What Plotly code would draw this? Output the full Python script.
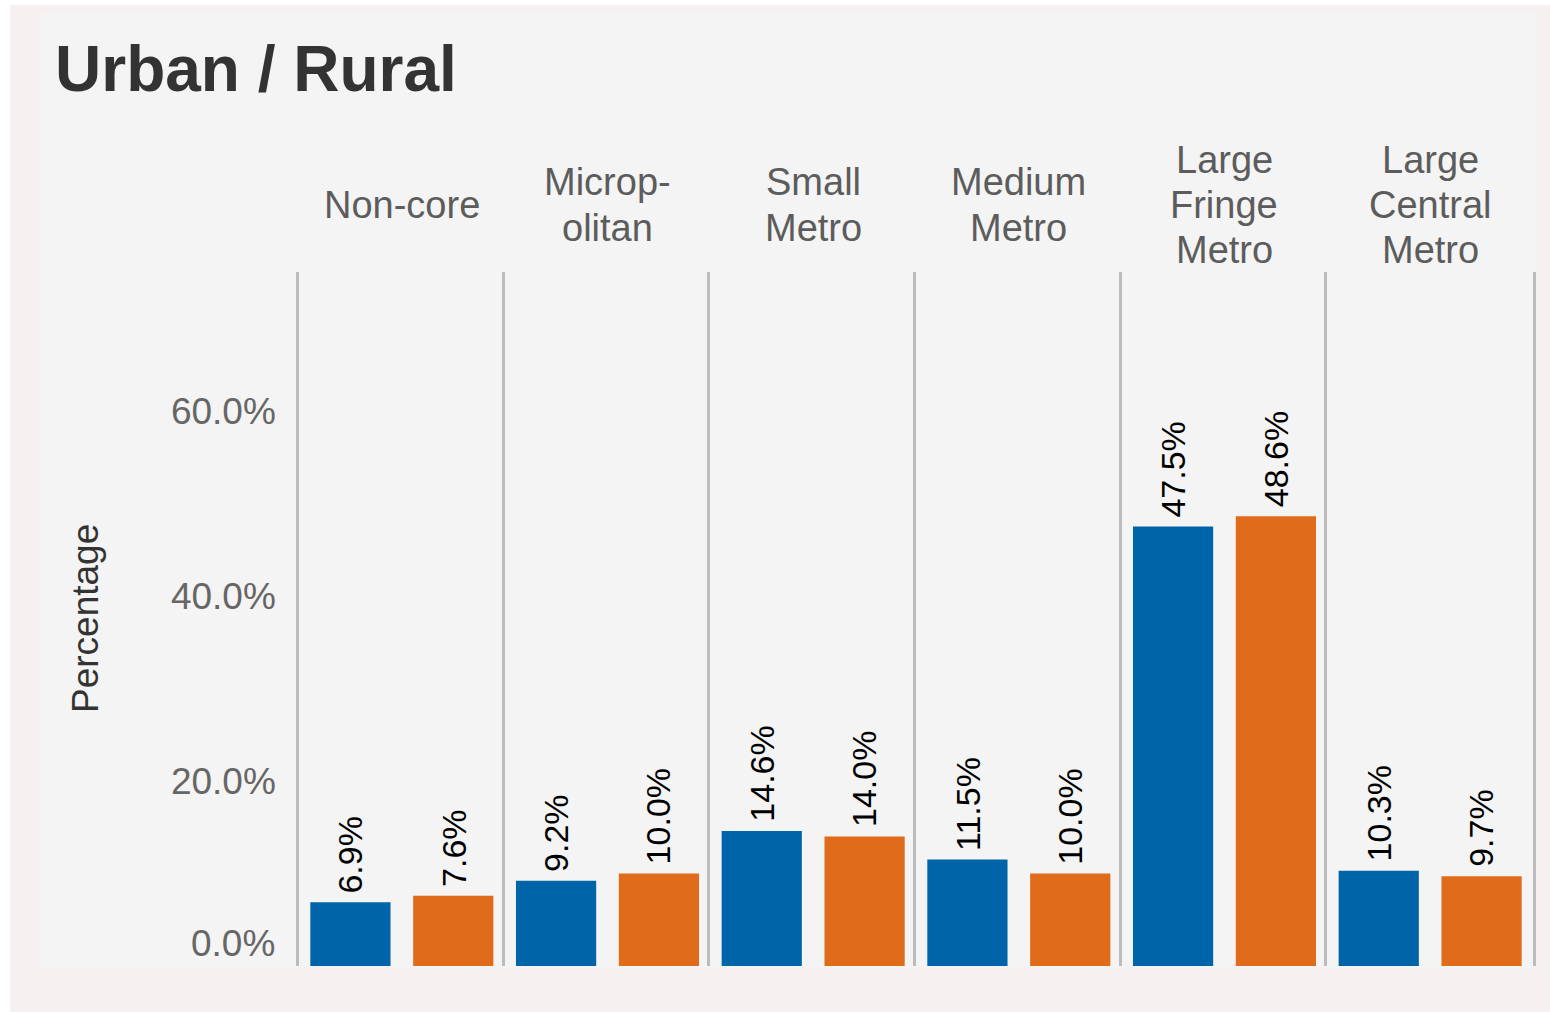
import plotly.graph_objects as go
from plotly.subplots import make_subplots

# ---- data ----
categories = ["Non-core", "Microp-\nolitan", "Small\nMetro", "Medium\nMetro",
              "Large\nFringe\nMetro", "Large\nCentral\nMetro"]
first_values = [6.9, 9.2, 14.6, 11.5, 47.5, 10.3]
second_values = [7.6, 10.0, 14.0, 10.0, 48.6, 9.7]
tick_values = [0, 20, 40, 60]
tick_labels = ["0.0%", "20.0%", "40.0%", "60.0%"]
title_text = "Urban / Rural"
y_title = "Percentage"

# ---- styling ----
FONT = "Liberation Sans, Arial, Helvetica, sans-serif"
BLUE = "#0065a8"
ORANGE = "#e06b1a"
OUTER_BG = "#f6f0f0"
PANEL_BG = "#f4f4f4"
LINE = "#bcbcbc"

W, H = 1550, 1012
ML, MR, MT, MB = 299, 17, 272, 46
PW, PH = W - ML - MR, H - MT - MB


def px_x(px):
    return (px - ML) / PW


def px_y(py):
    return (H - MB - py) / PH


n = len(categories)
fig = make_subplots(rows=1, cols=n, shared_yaxes=True, horizontal_spacing=0)

for i in range(n):
    col = i + 1
    fig.add_trace(go.Bar(x=[0], y=[first_values[i]], width=0.78,
                         marker=dict(color=BLUE, line_width=0),
                         showlegend=False, hoverinfo="y"), row=1, col=col)
    fig.add_trace(go.Bar(x=[1], y=[second_values[i]], width=0.78,
                         marker=dict(color=ORANGE, line_width=0),
                         showlegend=False, hoverinfo="y"), row=1, col=col)
    xr = "x" if col == 1 else f"x{col}"
    yr = "y" if col == 1 else f"y{col}"
    # value labels above the bars
    for xv, val in ((0, first_values[i]), (1, second_values[i])):
        fig.add_annotation(x=xv, y=val, xref=xr, yref=yr, text=f"{val:.1f}%",
                           textangle=-90, showarrow=False, xanchor="center",
                           yanchor="bottom", yshift=7,
                           font=dict(family=FONT, size=34, color="#000000"))
    # column header, one annotation per line
    lines = categories[i].split("\n")
    for k, ln in enumerate(lines):
        offset = (k - (len(lines) - 1) / 2) * 45
        fig.add_annotation(x=0.5, xref=f"{xr} domain", y=px_y(205 + offset), yref="paper",
                           text=ln, showarrow=False, xanchor="center", yanchor="middle",
                           font=dict(family=FONT, size=38, color="#5c5c5c"))
    fig.update_xaxes(range=[-0.5, 1.5], showticklabels=False, showgrid=False,
                     zeroline=False, showline=False, fixedrange=True, row=1, col=col)
    fig.update_yaxes(range=[0, 75], showgrid=False, zeroline=False,
                     showline=True, linecolor=LINE, linewidth=2.5,
                     mirror=(col == n), row=1, col=col)

fig.update_yaxes(tickvals=tick_values[1:], ticktext=tick_labels[1:], ticks="",
                 ticklabelstandoff=13,
                 tickfont=dict(family=FONT, size=37, color="#666666"), row=1, col=1)

# bottom tick label sits flush with the axis end
fig.add_annotation(x=0, xref="x domain", xshift=-22, y=tick_values[0], yref="y",
                   text=tick_labels[0], showarrow=False, xanchor="right", yanchor="bottom",
                   yshift=0, font=dict(family=FONT, size=37, color="#666666"))

# axis title
fig.add_annotation(x=px_x(85), y=0.5, xref="paper", yref="paper", text=y_title,
                   textangle=-90, showarrow=False, xanchor="center", yanchor="middle",
                   font=dict(family=FONT, size=37, color="#333333"))

# chart title
fig.add_annotation(x=px_x(53), y=px_y(69), xref="paper", yref="paper",
                   text=f"<b>{title_text}</b>", showarrow=False,
                   xanchor="left", yanchor="middle",
                   font=dict(family=FONT, size=64, color="#333333"))

# background frames
fig.add_shape(type="rect", xref="paper", yref="paper", layer="below",
              x0=px_x(10), x1=px_x(W + 5), y0=px_y(5), y1=px_y(H + 5),
              fillcolor=OUTER_BG, line_width=0)
fig.add_shape(type="rect", xref="paper", yref="paper", layer="below",
              x0=px_x(40), x1=px_x(1535), y0=px_y(12), y1=px_y(969),
              fillcolor=PANEL_BG, line_width=0)

fig.update_layout(
    width=W, height=H,
    margin=dict(l=ML, r=MR, t=MT, b=MB, pad=0),
    paper_bgcolor="#ffffff",
    plot_bgcolor="rgba(0,0,0,0)",
    barmode="overlay",
    showlegend=False,
    font=dict(family=FONT),
)

fig.write_html("out.html")
